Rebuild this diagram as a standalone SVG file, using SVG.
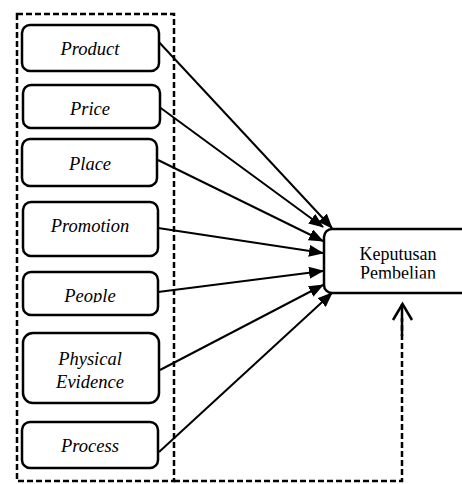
<svg xmlns="http://www.w3.org/2000/svg" width="462" height="484" viewBox="0 0 462 484">
<style>
.box{fill:#fff;stroke:#000;stroke-width:2.5}
.lbl{font-family:'Liberation Serif','Times New Roman',serif;font-size:18.5px;font-style:italic;text-anchor:middle;fill:#000}
.lblr{font-family:'Liberation Serif','Times New Roman',serif;font-size:18px;text-anchor:middle;fill:#000}
.dash{fill:none;stroke:#000;stroke-width:2.5;stroke-dasharray:6 3}
.conn{stroke:#000;stroke-width:2;fill:none;marker-end:url(#ah)}
</style>
<defs>
<marker id="ah" markerUnits="userSpaceOnUse" markerWidth="15" markerHeight="12" refX="14" refY="6" orient="auto">
<path d="M0,0 L15,6 L0,12 z" fill="#000"/>
</marker>
<clipPath id="cpPeople"><rect x="22" y="272" width="137" height="30.5"/></clipPath>
<clipPath id="cpKP"><rect x="324" y="229" width="200" height="49.5"/></clipPath>
</defs>
<rect x="17" y="14" width="157" height="467" class="dash"/>
<g id="connectors">
<line class="conn" x1="157" y1="40" x2="332" y2="228"/>
<line class="conn" x1="158" y1="106" x2="323" y2="227"/>
<line class="conn" x1="158" y1="160" x2="323" y2="241"/>
<line class="conn" x1="158" y1="228" x2="323" y2="253"/>
<line class="conn" x1="158" y1="292" x2="323" y2="271"/>
<line class="conn" x1="160" y1="370" x2="323" y2="285"/>
<line class="conn" x1="159" y1="452" x2="332" y2="293"/>
<path class="dash" d="M174,481 H402 V318"/>
<line x1="402" y1="304" x2="402" y2="336" stroke="#000" stroke-width="2.5"/>
<path d="M393,320 L402.5,304 L412,320" fill="none" stroke="#000" stroke-width="2.5"/>
</g>
<g id="product"><rect class="box" x="22" y="25" width="137" height="46" rx="8"/><text class="lbl" x="90" y="55">Product</text></g>
<g id="price"><rect class="box" x="23" y="85" width="137" height="43" rx="8"/><text class="lbl" x="90" y="115">Price</text></g>
<g id="place"><rect class="box" x="22" y="139" width="135" height="47" rx="8"/><text class="lbl" x="90" y="170">Place</text></g>
<g id="promotion"><rect class="box" x="23" y="202" width="135" height="54" rx="8"/><text class="lbl" x="90" y="232">Promotion</text></g>
<g id="people"><rect class="box" x="23" y="272" width="135" height="43" rx="8"/><text class="lbl" x="90" y="302" clip-path="url(#cpPeople)">People</text></g>
<g id="physical-evidence"><rect class="box" x="23" y="333" width="136" height="70" rx="10"/><text class="lbl" x="90" y="365">Physical</text><text class="lbl" x="90" y="388">Evidence</text></g>
<g id="process"><rect class="box" x="22" y="422" width="136" height="46" rx="8"/><text class="lbl" x="90" y="452">Process</text></g>
<g id="keputusan"><rect class="box" x="324" y="229" width="180" height="64" rx="8"/><text class="lblr" x="398" y="260">Keputusan</text><text class="lblr" x="398" y="279" clip-path="url(#cpKP)">Pembelian</text></g>
</svg>
